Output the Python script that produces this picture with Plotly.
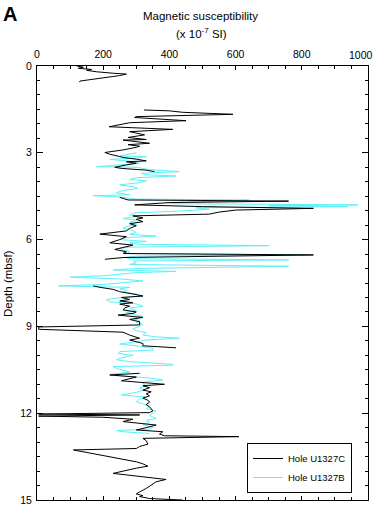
import plotly.graph_objects as go

# Hole U1327C (black) - depth (mbsf) and magnetic susceptibility (x 10^-7 SI); None = core gap
c_depth = [0.0, 0.04, 0.08, 0.12, 0.15, 0.2, 0.25, 0.28, 0.33, 0.4, 0.46, 0.52, 0.56, None,
           1.52, 1.55, 1.6, 1.67, 1.75, 1.78, 1.89, 1.96, 2.1, 2.19, 2.27, 2.33, 2.38, 2.47, 2.54, 2.56,
           2.62, 2.67, 2.72, 2.77, 2.81, 2.9, 2.99, 3.05, 3.13, 3.16, 3.22, 3.28, 3.31, 3.36, 3.42, 3.5,
           3.54, 3.6, 3.65, None,
           4.54, 4.6, 4.63, 4.67, 4.72, 4.8, 4.86, 4.92, 4.98, 5.05, 5.12, 5.18, 5.25, 5.3, 5.38, 5.45,
           5.52, 5.61, 5.7, 5.81, 5.9, 6.0, 6.11, 6.19, 6.26, 6.34, 6.42, 6.48, 6.53, 6.57, 6.62, 6.68, None,
           7.6, 7.65, 7.72, 7.8, 7.88, 7.95, 8.0, 8.07, 8.12, 8.18, 8.23, 8.3, 8.36, 8.43, 8.5, 8.55,
           8.61, 8.69, 8.76, 8.84, 8.95, 9.02, 9.1, 9.2, 9.3, 9.36, 9.41, 9.47, 9.53, 9.59, 9.67, 9.74, None,
           10.62, 10.68, 10.75, 10.82, 10.88, 10.95, 11.0, 11.05, 11.12, 11.2, 11.26, 11.33, 11.4, 11.48,
           11.55, 11.62, 11.7, 11.78, 11.85, 11.92, 11.98, 12.03, 12.06, 12.1, 12.14, 12.21, 12.29, 12.35,
           12.41, 12.5, 12.58, 12.64, 12.72, 12.78, 12.81, 12.87, 12.95, 13.07, 13.15, 13.22, 13.27, 13.68,
           13.75, 13.83, 13.9, 14.08, 14.2, 14.29, 14.37, 14.45, 14.6, 14.72, 14.79, 14.85, 14.88, 14.95, 15.0]
c_value = [120, 140, 125, 165, 150, 180, 230, 270, 250, 200, 160, 130, 128, None,
           323, 400, 440, 592, 300, 295, 450, 280, 218, 410, 280, 300, 325, 275, 330, 260,
           300, 340, 275, 310, 300, 260, 205, 220, 250, 260, 300, 330, 270, 300, 270, 235,
           255, 330, 355, None,
           250, 270, 275, 760, 400, 295, 500, 835, 600, 550, 520, 290, 320, 300, 320, 280,
           300, 280, 270, 190, 270, 250, 220, 290, 260, 235, 270, 260, 835, 500, 260, 205, None,
           170, 190, 230, 250, 290, 320, 255, 280, 250, 290, 250, 280, 265, 260, 300, 290,
           245, 320, 280, 310, 310, 5, 5, 260, 280, 300, 310, 280, 300, 320, 320, 420, None,
           310, 220, 300, 270, 255, 330, 385, 320, 340, 320, 345, 330, 340, 320,
           335, 340, 330, 340, 345, 350, 340, 5, 310, 5, 200, 290, 260, 320,
           360, 330, 300, 380, 370, 385, 610, 320, 330, 335, 310, 300, 110, 300,
           320, 335, 300, 230, 320, 390, 360, 350, 330, 310, 300, 320, 310, 340, 440]

# Hole U1327B (cyan)
b_depth = [3.0, 3.05, 3.11, 3.13, 3.18, 3.23, 3.3, 3.36, 3.42, 3.48, 3.5, 3.58, 3.65, 3.71, 3.76, 3.8,
           3.86, 3.92, 3.97, 4.03, 4.11, 4.17, 4.23, 4.3, 4.38, 4.45, 4.48, 4.52, 4.57, 4.6, 4.63, 4.67,
           4.72, 4.76, 4.8, 4.83, 4.86, 4.9, 4.95, 5.02, 5.07, 5.14, 5.2, 5.27, 5.33, 5.4, 5.47, 5.55,
           5.61, 5.68, 5.75, 5.82, 5.88, 5.94, 6.0, 6.06, 6.12, 6.16, 6.21, 6.26, 6.3, 6.36, 6.42, 6.48,
           6.53, 6.57, 6.61, 6.66, 6.7, 6.74, 6.8, 6.86, 6.92, 6.96, 7.0, 7.05, 7.1, 7.14, 7.2, 7.25,
           7.3, 7.36, 7.43, 7.5, 7.55, 7.6, 7.65, 7.7, 7.76, 7.82, 7.88, 7.95, 8.02, 8.08, 8.15, 8.22,
           8.3, 8.37, 8.45, 8.52, 8.6, 8.66, 8.73, 8.8, 8.87, 8.93, 9.0, 9.08, 9.15, 9.22, 9.3, 9.36,
           9.41, 9.47, 9.53, 9.61, 9.68, 9.76, 9.82, 9.87, 9.93, 10.0, 10.08, 10.15, 10.22, 10.31, 10.34,
           10.39, 10.45, 10.52, 10.58, 10.66, 10.72, 10.78, 10.85, 10.91, 10.97, 11.05, 11.12, 11.2,
           11.28, 11.37, 11.44, 11.52, 11.6, 11.68, 11.76, 11.84, 11.92, 12.0, 12.08, 12.18, 12.25,
           12.32, 12.4, 12.48, 12.55, 12.6, 12.64, 12.7]
b_value = [300, 280, 250, 330, 300, 220, 290, 310, 250, 180, 300, 340, 430, 315, 330, 420,
           300, 280, 330, 310, 250, 290, 305, 260, 240, 280, 170, 240, 280, 300, 640, 560,
           390, 420, 970, 700, 940, 480, 520, 420, 300, 280, 300, 260, 300, 280, 300, 270,
           260, 290, 300, 280, 360, 260, 250, 330, 280, 300, 700, 280, 250, 260, 280, 270,
           810, 300, 270, 280, 760, 290, 300, 280, 760, 420, 300, 230, 420, 300, 250, 200,
           100, 250, 320, 260, 200, 65, 280, 250, 270, 260, 300, 320, 240, 210, 220, 300,
           320, 280, 300, 270, 300, 320, 290, 310, 300, 320, 310, 290, 300, 330, 320, 360,
           430, 330, 300, 250, 310, 350, 350, 250, 245, 290, 260, 240, 280, 410, 410,
           230, 240, 260, 280, 220, 260, 340, 380, 330, 320, 330, 310, 320,
           300, 255, 330, 310, 300, 320, 340, 330, 360, 350, 340, 360, 330,
           340, 320, 350, 340, 240, 260, 340]

x_ticks = [0, 200, 400, 600, 800, 1000]
x_tick_text = ["0", "200", "400", "600", "800", "1000"]
y_ticks = [0, 3, 6, 9, 12, 15]

FONT = "Liberation Sans, Arial, sans-serif"
L, R, T, B = 37, 368, 66, 500   # plot frame in pixels
W, H = 374, 507


def px_x(p):
    return (p - L) / (R - L)


def px_y(p):
    return (B - p) / (B - T)


fig = go.Figure()
fig.add_trace(go.Scatter(x=b_value, y=b_depth, mode="lines", name="Hole U1327B",
                         line=dict(color="#5CF0F8", width=1), connectgaps=False, legendrank=2))
fig.add_trace(go.Scatter(x=c_value, y=c_depth, mode="lines", name="Hole U1327C",
                         line=dict(color="black", width=1), connectgaps=False, legendrank=1))

fig.update_layout(
    width=W, height=H,
    margin=dict(l=L, r=W - R, t=T, b=H - B, autoexpand=False),
    paper_bgcolor="white", plot_bgcolor="white",
    font=dict(family=FONT, size=10, color="black"),
    showlegend=True,
    legend=dict(x=px_x(247), y=px_y(443), xanchor="left", yanchor="top",
                bordercolor="black", borderwidth=1, bgcolor="white",
                font=dict(size=9.5), tracegroupgap=0, itemwidth=30),
    xaxis=dict(side="top", range=[0, 1000], tickvals=x_ticks, ticktext=x_tick_text[:-1] + [""],
               ticks="inside", ticklen=4,
               tickcolor="black", showline=True, linecolor="black", linewidth=1, mirror="allticks",
               showgrid=False, zeroline=False, tickfont=dict(size=10.5), ticklabelstandoff=3,
               minor=dict(ticks="inside", dtick=50, ticklen=3, tickcolor="black", showgrid=False)),
    yaxis=dict(range=[15, 0], tickvals=y_ticks, ticks="inside", ticklen=6,
               tickcolor="black", showline=True, linecolor="black", linewidth=1, mirror="allticks",
               showgrid=False, zeroline=False, tickfont=dict(size=10.5), ticklabeloverflow="allow",
               ticklabelstandoff=2,
               minor=dict(ticks="inside", dtick=0.5, ticklen=3, tickcolor="black", showgrid=False)),
)

# last x tick label sits just inside the right edge, as in the original
fig.add_annotation(text=x_tick_text[-1], xref="paper", yref="paper", x=px_x(361), y=px_y(55),
                   showarrow=False, font=dict(size=10.5, family=FONT), xanchor="center", yanchor="middle")
fig.add_annotation(text="<b>A</b>", xref="paper", yref="paper", x=px_x(9.5), y=px_y(14),
                   showarrow=False, font=dict(size=20, family=FONT), xanchor="center", yanchor="middle")
fig.add_annotation(text="Magnetic susceptibility", xref="paper", yref="paper",
                   x=px_x(200), y=px_y(16), showarrow=False,
                   font=dict(size=11.5, family=FONT), xanchor="center", yanchor="middle")
fig.add_annotation(text="(x 10<sup>-7</sup> SI)", xref="paper", yref="paper",
                   x=px_x(201), y=px_y(33), showarrow=False,
                   font=dict(size=11.5, family=FONT), xanchor="center", yanchor="middle")
fig.add_annotation(text="Depth (mbsf)", xref="paper", yref="paper",
                   x=px_x(8), y=0.5, textangle=-90, showarrow=False,
                   font=dict(size=11.5, family=FONT), xanchor="center", yanchor="middle")

fig.write_html("out.html", config={"displayModeBar": False},
               post_script="document.body.style.margin='0';")
